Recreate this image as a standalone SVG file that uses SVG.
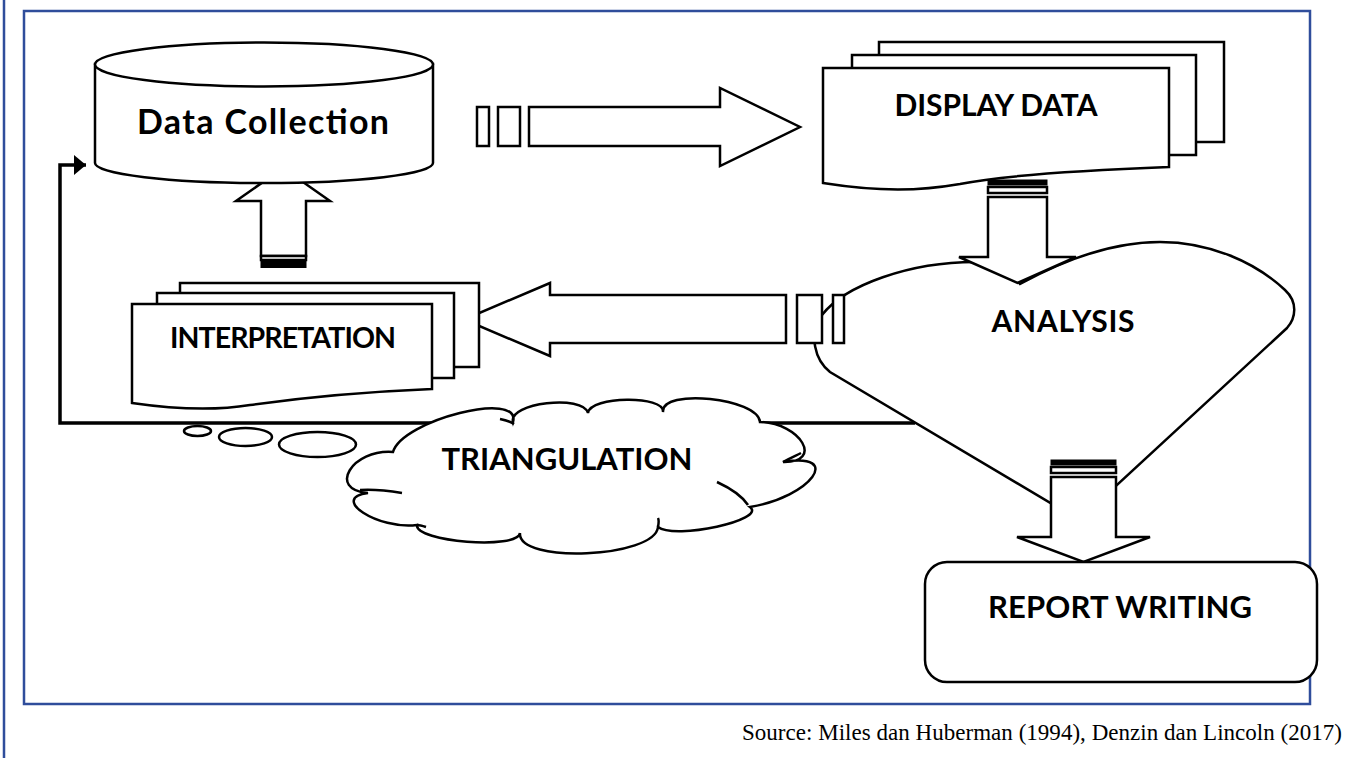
<svg xmlns="http://www.w3.org/2000/svg" width="1357" height="758" viewBox="0 0 1357 758">
<defs>
<style>
.s{fill:#fff;stroke:#000;stroke-width:2.5;stroke-linejoin:miter}
.k{fill:#000;stroke:#000;stroke-width:1}
.t{font-family:Lato,"Open Sans","Liberation Sans",sans-serif;font-weight:bold;fill:#000;text-anchor:middle}
.frame{fill:none;stroke:#2f4d9b;stroke-width:2.5}
.fb{fill:none;stroke:#000;stroke-width:3.5}
</style>
<marker id="ah" viewBox="0 0 12 20" refX="12" refY="10" markerWidth="12" markerHeight="20" markerUnits="userSpaceOnUse" orient="auto">
<path d="M0 0 L12 10 L0 20 Z" fill="#000"/>
</marker>
</defs>
<rect width="1357" height="758" fill="#fff"/>
<line x1="4" y1="0" x2="4" y2="758" class="frame"/>
<rect x="24" y="11" width="1286" height="693" class="frame"/>

<g id="connectors">
<polyline class="fb" points="915,423 60,423 60,165 86,165" marker-end="url(#ah)"/>
<g id="arrow-collect-display">
<rect class="s" x="477" y="107" width="12" height="39"/>
<rect class="s" x="498" y="107" width="22" height="39"/>
<path class="s" d="M529 107 L720 107 L720 88 L800 127 L720 166 L720 146 L529 146 Z"/>
</g>
</g>

<g id="heart-analysis">
<path class="s" d="M1079 520 L830 372 C815 360 808 335 822 315 C845 285 910 262 975 262 C995 262 1010 272 1020 284 C1060 262 1110 242 1160 242 C1210 242 1255 262 1285 290 C1298 302 1296 318 1287 328 Z"/>
<text class="t" x="1063" y="332" font-size="30" textLength="143">ANALYSIS</text>
</g>

<g id="arrow-analysis-interp">
<path class="s" d="M786 295 L550 295 L550 283 L464 319.5 L550 356 L550 343 L786 343 Z"/>
<rect class="s" x="797" y="295" width="25" height="48"/>
<rect class="s" x="833" y="295" width="11" height="48"/>
</g>

<g id="arrow-display-analysis">
<path class="s" d="M988 197 L1047 197 L1047 257 L1076 257 L1017.5 283 L959 257 L988 257 Z"/>
<rect class="s" x="988" y="187" width="59" height="6"/>
<rect class="k" x="988" y="180" width="59" height="5"/>
</g>

<g id="arrow-analysis-report">
<path class="s" d="M1051 477 L1116 477 L1116 537 L1150 537 L1083.5 562 L1017 537 L1051 537 Z"/>
<rect class="s" x="1051" y="467" width="65" height="6"/>
<rect class="k" x="1051" y="460" width="65" height="5"/>
</g>

<g id="arrow-interp-collect">
<path class="s" d="M261 256 L261 201 L236 201 L283 168 L330 201 L306 201 L306 256 Z"/>
<rect class="s" x="261" y="256" width="45" height="4"/>
<rect class="k" x="261" y="261.5" width="45" height="6"/>
</g>

<g id="data-collection">
<path class="s" d="M95 64 L95 163 A169 20 0 0 0 433 163 L433 64 Z"/>
<ellipse class="s" cx="264" cy="64.5" rx="169" ry="22"/>
<text class="t" x="263" y="134" font-size="34" textLength="252">Data Collection</text>
</g>

<g id="display-data">
<rect class="s" x="879" y="42" width="345" height="100"/>
<rect class="s" x="852" y="55" width="344" height="100"/>
<path class="s" d="M823 68 L1169 68 L1169 167 C1090 170 1000 176 960 184 C920 191 880 192 823 183 Z"/>
<text class="t" x="996" y="116" font-size="30" textLength="203">DISPLAY DATA</text>
</g>

<g id="interpretation">
<rect class="s" x="180" y="283" width="299" height="84"/>
<rect class="s" x="157" y="293" width="297" height="85"/>
<path class="s" d="M132 304 L432 304 L432 389 C360 392 300 398 250 405 C220 410 180 410 132 403 Z"/>
<text class="t" x="283" y="348" font-size="28.5" textLength="226">INTERPRETATION</text>
</g>

<g id="triangulation">
<ellipse class="s" cx="197.5" cy="431" rx="13.5" ry="5"/>
<ellipse class="s" cx="245.5" cy="437" rx="26.5" ry="9"/>
<ellipse class="s" cx="317.5" cy="444.5" rx="38.5" ry="12.5"/>
<path class="s" d="M393 452 C402 420 522 390 513 422 C508 403 583 394 588 413 C590 396 665 395 663 412 C661 388 758 398 760 422 C801 423 824 463 783 462 C844 452 811 497 750 507 C767 520 675 540 658 527 C655 558 517 564 520 533 C518 550 415 542 417 525 C378 530 329 498 368 493 C327 490 352 449 393 452 Z"/>
<path fill="none" stroke="#000" stroke-width="2.5" d="M717 482 C730 488 742 496 748 505 M360 490 C375 489 390 491 402 493 M783 462 C790 458 795 456 801 453 M500 419 C505 420 510 421 514 424 M417 525 C420 525 423 526 426 527 M658 527 C659 522 659 520 658 518"/>
<text class="t" x="567" y="470" font-size="31" textLength="251">TRIANGULATION</text>
</g>

<g id="report-writing">
<rect class="s" x="925" y="562" width="392" height="120" rx="22" ry="22"/>
<text class="t" x="1120" y="618" font-size="31" textLength="264">REPORT WRITING</text>
</g>

<text x="1342" y="740" font-family="'Liberation Serif','Times New Roman',serif" font-size="23" text-anchor="end" textLength="600" fill="#000">Source: Miles dan Huberman (1994), Denzin dan Lincoln (2017)</text>
</svg>
